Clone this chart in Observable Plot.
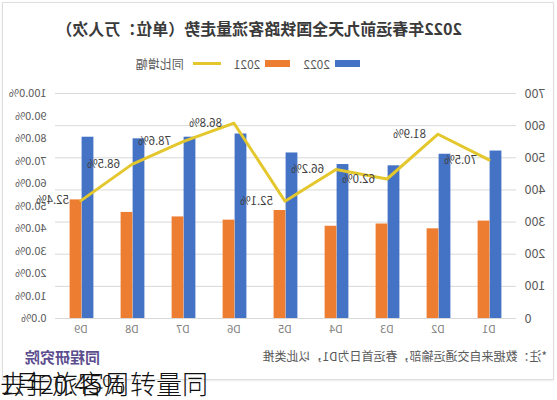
<!DOCTYPE html>
<html>
<head>
<meta charset="utf-8">
<script src="https://cdn.jsdelivr.net/npm/d3@7"></script>
<script src="https://cdn.jsdelivr.net/npm/@observablehq/plot@0.6"></script>
<style>
  html, body { margin: 0; padding: 0; background: #fff; }
  body { width: 557px; height: 400px; position: relative; overflow: hidden; font-family: "Noto Sans CJK SC", "Noto Sans", sans-serif; }
  #mirror { position: absolute; left: 0; top: 0; width: 557px; height: 400px; transform: scaleX(-1); transform-origin: 278.5px 0; }
  #card { position: absolute; left: 3px; top: 2px; width: 552px; height: 378px; border: 1px solid #dedede; box-sizing: border-box; box-shadow: 0 1px 2px rgba(0,0,0,0.08); }
  #title { position: absolute; left: 95px; width: 392px; top: 16px; text-align: center; font-size: 16px; font-weight: bold; color: #3a3a3a; white-space: nowrap; }
  #legend { position: absolute; left: 197px; top: 55px; display: flex; align-items: center; font-size: 12px; color: #595959; white-space: nowrap; }
  #legend .sw { display: inline-block; width: 25px; height: 7px; margin-right: 5px; }
  #legend .ln { display: inline-block; width: 28px; height: 3px; margin-right: 9px; }
  #legend .item { display: flex; align-items: center; margin-right: 13px; }
  #chart { position: absolute; left: 0; top: 80px; }
  #note { position: absolute; left: 10px; top: 347px; font-size: 12px; color: #595959; white-space: nowrap; }
  #logo { position: absolute; left: 457px; top: 346px; font-size: 15px; font-weight: bold; color: #5c4d8f; white-space: nowrap; }
  .overlay { position: absolute; left: 0; top: 367px; font-size: 26px; color: #111; white-space: nowrap; font-weight: 300; line-height: 32px; }
</style>
</head>
<body>
<div id="mirror">
  <div id="card"></div>
  <div id="title"></div>
  <div id="legend"></div>
  <div id="chart"></div>
  <div id="note"></div>
  <div id="logo"></div>
</div>
<div class="overlay" id="ovA"></div>
<div class="overlay" id="ovB"></div>
<script>
// ---- data ----
const days = ["D1", "D2", "D3", "D4", "D5", "D6", "D7", "D8", "D9"];
const v2022 = [521, 511, 475, 479, 515, 574, 564, 559, 564];
const v2021 = [303, 279, 294, 287, 336, 306, 316, 330, 369];
const growth = [70.5, 81.9, 62.0, 66.2, 52.1, 86.8, 78.6, 68.5, 52.4];
const leftTicks = [0, 100, 200, 300, 400, 500, 600, 700];
const rightTicks = [0, 10, 20, 30, 40, 50, 60, 70, 80, 90, 100];
const seriesNames = ["2022", "2021", "同比增幅"];
const titleText = "2022年春运前九天全国铁路客流量走势（单位：万人次）";
const noteText = "*注：数据来自交通运输部，春运首日为D1，以此类推";
const logoText = "同程研究院";
const overlayA = "1月20.45%";
const overlayB = "去年旅客周转量同";

const colors = { "2022": "#4472C4", "2021": "#ED7D31", "同比增幅": "#E3C72C" };

const table = days.map((d, i) => ({ day: d, v2022: v2022[i], v2021: v2021[i], growth: growth[i] }));

// right axis maps 0..100% onto 0..700
const pctToY = p => p * 7;

document.getElementById("title").textContent = titleText;
document.getElementById("note").textContent = noteText;
document.getElementById("logo").textContent = logoText;
document.getElementById("ovA").textContent = overlayA;
document.getElementById("ovB").textContent = overlayB;

const legend = document.getElementById("legend");
seriesNames.forEach(name => {
  const it = document.createElement("div");
  it.className = "item";
  const sw = document.createElement("span");
  sw.className = name === "同比增幅" ? "ln" : "sw";
  sw.style.background = colors[name];
  it.appendChild(sw);
  const t = document.createElement("span");
  t.textContent = name;
  it.appendChild(t);
  legend.appendChild(it);
});

const W = 557, mL = 41, mR = 55;
const bw = (W - mL - mR) / days.length;
const barW = 12;
const inset = (bw - barW) / 2;

const chart = Plot.plot({
  width: W,
  height: 270,
  marginTop: 13,
  marginBottom: 32,
  marginLeft: mL,
  marginRight: mR,
  x: { domain: days, padding: 0 },
  y: { domain: [0, 700] },
  style: { fontFamily: "'Noto Sans CJK SC', 'Noto Sans', sans-serif", fontSize: "11px", color: "#595959", background: "transparent" },
  marks: [
    Plot.gridY(leftTicks, { stroke: "#d9d9d9", strokeOpacity: 1 }),
    Plot.barY(table, { x: "day", y: "v2022", fill: colors["2022"], insetLeft: inset, insetRight: inset, dx: -barW / 2 }),
    Plot.barY(table, { x: "day", y: "v2021", fill: colors["2021"], insetLeft: inset, insetRight: inset, dx: barW / 2 }),
    Plot.line(table, { x: "day", y: d => pctToY(d.growth), stroke: colors["同比增幅"], strokeWidth: 3 }),
    Plot.text(table, { x: "day", y: d => pctToY(d.growth), text: d => d.growth.toFixed(1) + "%", dx: 12, textAnchor: "start", fill: "#404040", fontSize: 11.5 }),
    Plot.axisY({ ticks: leftTicks, tickSize: 0, tickPadding: 9, label: null, fill: "#595959", fontSize: 12.5 }),
    Plot.axisY({ anchor: "right", ticks: rightTicks.map(pctToY), tickFormat: d => (d / 7).toFixed(1) + "%", tickSize: 0, tickPadding: 8, label: null, fill: "#595959" }),
    Plot.axisX({ tickSize: 0, tickPadding: 7, label: null, fill: "#7f7f7f" })
  ]
});
document.getElementById("chart").appendChild(chart);
</script>
</body>
</html>
